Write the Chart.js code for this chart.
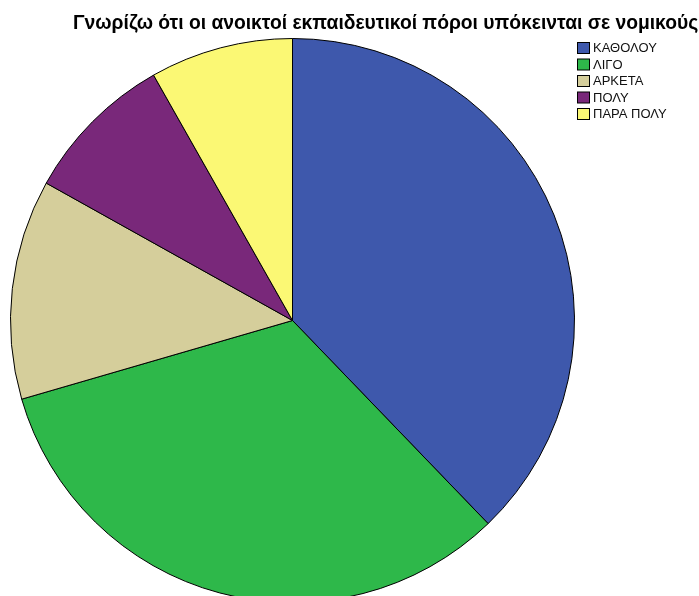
<!DOCTYPE html>
<html lang="el">
<head>
  <meta charset="UTF-8" />
  <title>Γνωρίζω ότι οι ανοικτοί εκπαιδευτικοί πόροι υπόκεινται σε νομικούς</title>
  <script src="https://cdn.jsdelivr.net/npm/chart.js"></script>
  <style>
    html, body {
      margin: 0;
      padding: 0;
      background: #ffffff;
      overflow: hidden;
    }
    canvas { display: block; }
  </style>
</head>
<body>
  <canvas id="pieChart" width="699" height="640"></canvas>

  <script>
    const title = 'Γνωρίζω ότι οι ανοικτοί εκπαιδευτικοί πόροι υπόκεινται σε νομικούς';
    const answers = ['ΚΑΘΟΛΟΥ', 'ΛΙΓΟ', 'ΑΡΚΕΤΑ', 'ΠΟΛΥ', 'ΠΑΡΑ ΠΟΛΥ'];
    const shares = [37.8, 32.7, 12.6, 8.7, 8.2];
    const sliceColors = ['#3e58ac', '#2eb84a', '#d5ce9b', '#79287a', '#fbf874'];

    // title and legend drawn on top of the pie
    const labelsPlugin = {
      id: 'labelsPlugin',
      afterDraw(chart) {
        const ctx = chart.ctx;
        ctx.save();
        ctx.fillStyle = '#000';
        ctx.font = 'bold 19.3px "Liberation Sans", Arial, sans-serif';
        ctx.textBaseline = 'alphabetic';
        ctx.textAlign = 'left';
        ctx.fillText(title, 73, 29);

        ctx.font = '13px "Liberation Sans", Arial, sans-serif';
        ctx.textBaseline = 'middle';
        answers.forEach((a, i) => {
          const y = 48 + i * 16.5;
          ctx.fillStyle = sliceColors[i];
          ctx.fillRect(577.5, y - 5.5, 12, 11);
          ctx.strokeStyle = '#000';
          ctx.lineWidth = 1;
          ctx.strokeRect(577.5, y - 5.5, 12, 11);
          ctx.fillStyle = '#111';
          ctx.fillText(a, 593, y + 0.5);
        });
        ctx.restore();
      }
    };

    new Chart(document.getElementById('pieChart').getContext('2d'), {
      type: 'pie',
      data: {
        labels: answers,
        datasets: [{
          data: shares,
          backgroundColor: sliceColors,
          borderColor: '#000',
          borderWidth: 1
        }]
      },
      options: {
        responsive: false,
        animation: false,
        layout: { padding: { left: 10, right: 124, top: 38, bottom: 37 } },
        plugins: {
          legend: { display: false },
          tooltip: { enabled: false }
        }
      },
      plugins: [labelsPlugin]
    });
  </script>
</body>
</html>
